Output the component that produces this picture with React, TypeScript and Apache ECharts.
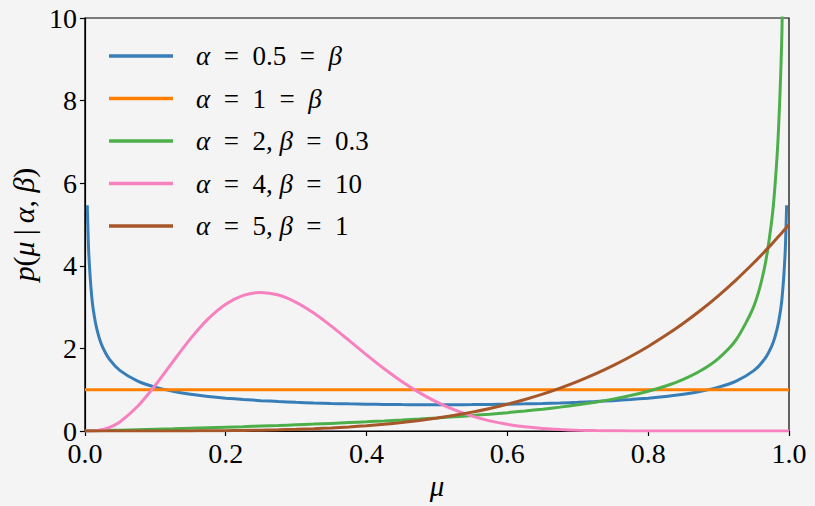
import React, { useEffect, useRef } from "react";
import * as echarts from "echarts";

// x positions (mu) at which curves were read
const mu = [0, 0.0034, 0.0055, 0.01, 0.015, 0.02, 0.025, 0.035, 0.05, 0.075, 0.1, 0.125, 0.15, 0.175, 0.2, 0.225, 0.25, 0.275, 0.3, 0.325, 0.35, 0.375, 0.4, 0.425, 0.45, 0.475, 0.5, 0.525, 0.55, 0.575, 0.6, 0.625, 0.65, 0.675, 0.7, 0.725, 0.75, 0.775, 0.8, 0.825, 0.85, 0.875, 0.9, 0.925, 0.95, 0.965, 0.975, 0.98, 0.985, 0.99, 0.9945, 0.9966, 1];

const blueVals = [null, 5.468, 4.304, 3.199, 2.619, 2.274, 2.039, 1.732, 1.4605, 1.2085, 1.061, 0.9625, 0.8915, 0.8377, 0.7958, 0.7623, 0.7351, 0.7129, 0.6946, 0.6796, 0.6674, 0.6575, 0.6497, 0.6439, 0.6398, 0.6374, 0.6366, 0.6374, 0.6398, 0.6439, 0.6497, 0.6575, 0.6674, 0.6796, 0.6946, 0.7129, 0.7351, 0.7623, 0.7958, 0.8377, 0.8915, 0.9625, 1.061, 1.2085, 1.4605, 1.732, 2.039, 2.274, 2.619, 3.199, 4.304, 5.468, null];
const orangeVals = [1, 1, 1, 1, 1, 1, 1, 1, 1, 1, 1, 1, 1, 1, 1, 1, 1, 1, 1, 1, 1, 1, 1, 1, 1, 1, 1, 1, 1, 1, 1, 1, 1, 1, 1, 1, 1, 1, 1, 1, 1, 1, 1, 1, 1, 1, 1, 1, 1, 1, 1, 1, 1];
const greenVals = [0, 0.0013, 0.0022, 0.0039, 0.0059, 0.0079, 0.0099, 0.014, 0.0202, 0.0309, 0.042, 0.0535, 0.0656, 0.0781, 0.0912, 0.1049, 0.1193, 0.1343, 0.1502, 0.1669, 0.1845, 0.2032, 0.2231, 0.2442, 0.2667, 0.2908, 0.3168, 0.3448, 0.3751, 0.4082, 0.4444, 0.4843, 0.5286, 0.5782, 0.6341, 0.698, 0.7719, 0.8587, 0.9626, 1.0899, 1.2509, 1.463, 1.7592, 2.2116, 3.0165, 3.9332, 5.029, 5.9105, 7.265, 9.6985, 14.81, 20.78, null];
const pinkVals = [0, 0.0001, 0.0005, 0.0026, 0.0084, 0.0191, 0.0356, 0.089, 0.2253, 0.5982, 1.108, 1.6795, 2.2357, 2.7138, 3.0709, 3.2854, 3.3554, 3.2921, 3.1161, 2.8565, 2.5398, 2.1947, 1.8447, 1.5085, 1.2003, 0.9286, 0.6982, 0.5094, 0.3601, 0.246, 0.1619, 0.1024, 0.0619, 0.0356, 0.0193, 0.0098, 0.0046, 0.002, 0.0008, 0.0003, 0.0001, 0, 0, 0, 0, 0, 0, 0, 0, 0, 0, 0, 0];
const brownVals = [0, 0, 0, 0, 0, 0, 0, 0, 0, 0.0002, 0.0005, 0.0012, 0.0025, 0.0047, 0.008, 0.0128, 0.0195, 0.0286, 0.0405, 0.0558, 0.075, 0.0989, 0.128, 0.1631, 0.205, 0.2545, 0.3125, 0.3799, 0.4575, 0.5466, 0.648, 0.7629, 0.8925, 1.038, 1.2005, 1.3814, 1.582, 1.8038, 2.048, 2.3163, 2.61, 2.9309, 3.2805, 3.6605, 4.0725, 4.3359, 4.5184, 4.6118, 4.7067, 4.803, 4.8909, 4.9323, 5];

const seriesNames = [
  "{i|α}\u2002=\u20020.5\u2002=\u2002{i|β}",
  "{i|α}\u2002=\u20021\u2002=\u2002{i|β}",
  "{i|α}\u2002=\u20022, {i|β}\u2002=\u20020.3",
  "{i|α}\u2002=\u20024, {i|β}\u2002=\u200210",
  "{i|α}\u2002=\u20025, {i|β}\u2002=\u20021",
];
const seriesColors = ["#377eb8", "#ff7f00", "#4daf4a", "#f781bf", "#a65628"];
const seriesVals = [blueVals, orangeVals, greenVals, pinkVals, brownVals];

const xTicks = [0, 0.2, 0.4, 0.6, 0.8, 1.0];
const yTicks = [0, 2, 4, 6, 8, 10];

const FONT = "Liberation Serif";

export default function App() {
  const ref = useRef<HTMLDivElement>(null);
  useEffect(() => {
    if (!ref.current) return;
    const chart = echarts.init(ref.current, null, { renderer: "svg" });
    const series = seriesVals.map((vals, k) => ({
      name: seriesNames[k],
      type: "line",
      data: mu.map((x, i) => [x, vals[i]]),
      showSymbol: false,
      symbol: "none",
      connectNulls: false,
      clip: true,
      smooth: 0.25,
      lineStyle: { color: seriesColors[k], width: 3 },
      itemStyle: { color: seriesColors[k] },
      z: 2 + k,
    }));
    const num = { fontFamily: FONT, fontSize: 28, color: "#000" };
    chart.setOption({
      animation: false,
      backgroundColor: "#f4f4f4",
      textStyle: { fontFamily: FONT },
      grid: {
        left: 81,
        right: 26,
        top: 18,
        bottom: 75,
        show: true,
        borderColor: "#000",
        borderWidth: 1.2,
        backgroundColor: "transparent",
      },
      legend: {
        orient: "vertical",
        left: 104,
        top: 36,
        icon: "rect",
        itemWidth: 64,
        itemHeight: 3.5,
        itemGap: 12.5,
        data: seriesNames,
        formatter: (n: string) => n,
        textStyle: {
          fontFamily: FONT,
          fontSize: 27,
          color: "#000",
          lineHeight: 30,
          padding: [0, 0, 0, 18],
          rich: {
            i: { fontFamily: FONT, fontStyle: "italic", fontSize: 27, color: "#000" },
          },
        },
      },
      xAxis: {
        type: "value",
        min: 0,
        max: 1,
        interval: 0.2,
        name: "μ",
        nameLocation: "middle",
        nameGap: 38,
        nameTextStyle: { ...num, fontStyle: "italic", fontSize: 29 },
        axisLine: { show: true, lineStyle: { color: "#000", width: 1.2 } },
        axisTick: { show: true, inside: false, length: 5, lineStyle: { color: "#000", width: 1.2 } },
        axisLabel: {
          ...num,
          margin: 11,
          lineHeight: 22,
          formatter: (v: number) => (xTicks.some((t) => Math.abs(t - v) < 1e-9) ? v.toFixed(1) : ""),
        },
        splitLine: { show: false },
      },
      yAxis: {
        type: "value",
        min: 0,
        max: 10,
        interval: 2,
        name: "{i|p}({i|μ}\u2009|\u2009{i|α}, {i|β})",
        nameLocation: "middle",
        nameGap: 44,
        nameTextStyle: {
          ...num,
          fontSize: 30,
          rich: { i: { ...num, fontSize: 30, fontStyle: "italic" } },
        },
        axisLine: { show: true, lineStyle: { color: "#000", width: 1.2 } },
        axisTick: { show: true, inside: false, length: 5, lineStyle: { color: "#000", width: 1.2 } },
        axisLabel: {
          ...num,
          margin: 8,
          lineHeight: 18,
          formatter: (v: number) => (yTicks.includes(v) ? String(v) : ""),
        },
        splitLine: { show: false },
      },
      series,
    });
    return () => chart.dispose();
  }, []);
  return <div ref={ref} style={{ width: 815, height: 506, position: "absolute", left: 0, top: 0 }} />;
}
